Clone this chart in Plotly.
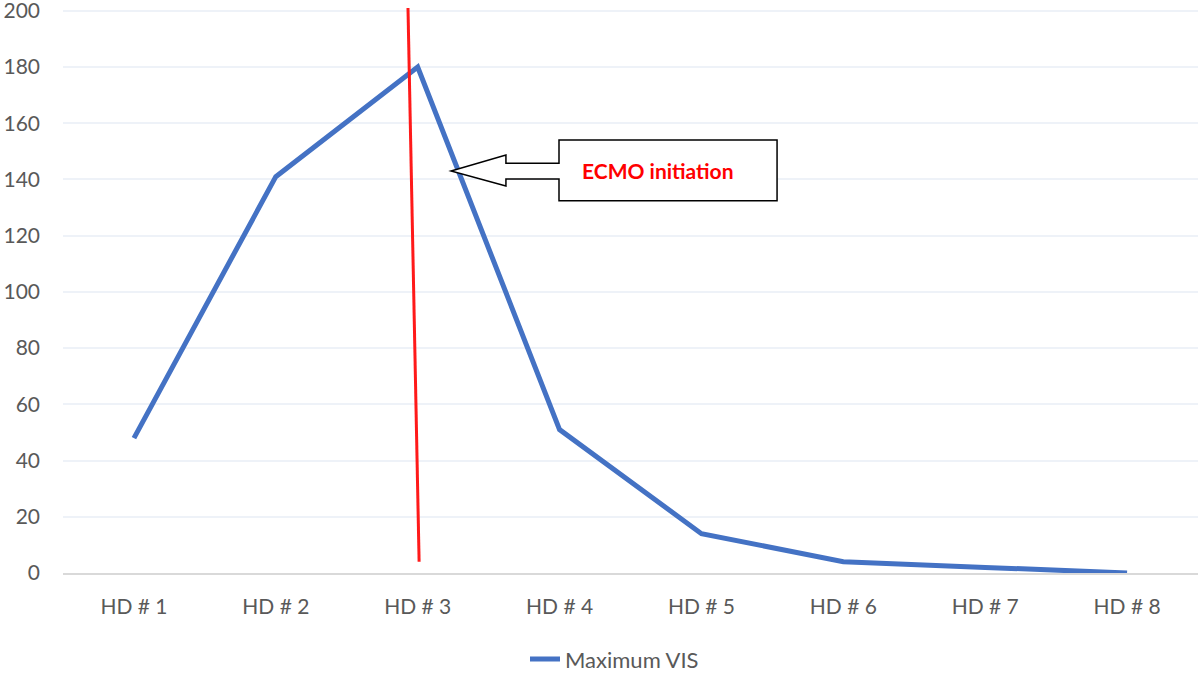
import plotly.graph_objects as go

# Data
days = ["HD # 1", "HD # 2", "HD # 3", "HD # 4", "HD # 5", "HD # 6", "HD # 7", "HD # 8"]
max_vis = [48, 141, 180, 51, 14, 4, 2, 0]
y_ticks = list(range(0, 201, 20))

# ECMO initiation marker line (x in category index units, y in VIS)
ecmo_x = [1.93, 2.01]
ecmo_y = [205, 4]

# callout arrow/box outline (category index units, VIS units)
callout_x = [2.996, 4.533, 4.533, 2.996, 2.996, 2.622, 2.622, 2.235, 2.622, 2.622, 2.996]
callout_y = [154.0, 154.0, 132.4, 132.4, 140.2, 140.2, 137.7, 143.0, 148.7, 145.8, 145.8]
callout_text = "ECMO initiation"

font_family = "Lato, Open Sans, sans-serif"

fig = go.Figure()

fig.add_trace(go.Scatter(
    x=days,
    y=max_vis,
    mode="lines",
    name="Maximum VIS",
    line=dict(color="#4472c4", width=5),
))

# red vertical-ish line
fig.add_shape(
    type="line",
    xref="x", yref="y",
    x0=ecmo_x[0], y0=ecmo_y[0], x1=ecmo_x[1], y1=ecmo_y[1],
    line=dict(color="#ff1a1a", width=3),
)

# callout box with arrow
path = "M " + " L ".join(f"{a},{b}" for a, b in zip(callout_x, callout_y)) + " Z"
fig.add_shape(
    type="path",
    xref="x", yref="y",
    path=path,
    fillcolor="white",
    line=dict(color="black", width=1.5),
)

fig.add_annotation(
    x=(callout_x[0] + callout_x[1]) / 2 - 0.07,
    y=(callout_y[0] + callout_y[2]) / 2,
    xref="x", yref="y",
    text="<b>" + callout_text + "</b>",
    showarrow=False,
    font=dict(color="#ff0000", size=21, family=font_family),
)

fig.update_layout(
    width=1200,
    height=674,
    margin=dict(l=63, r=2, t=8, b=101),
    plot_bgcolor="white",
    paper_bgcolor="white",
    font=dict(family=font_family, size=21, color="#595959"),
    showlegend=True,
    legend=dict(
        orientation="h",
        xref="container", x=0.4375, xanchor="left",
        yref="container", y=0.022, yanchor="middle",
        font=dict(size=22, color="#595959"),
    ),
)

fig.update_xaxes(
    type="category",
    range=[-0.5, 7.5],
    automargin=False,
    showgrid=False,
    showline=True,
    linecolor="#d9d9d9",
    linewidth=1.5,
    ticks="",
    ticklabelstandoff=14,
    tickfont=dict(size=21, color="#595959"),
)

fig.update_yaxes(
    range=[0, 201],
    tickvals=y_ticks,
    automargin=False,
    ticklabeloverflow="allow",
    showgrid=True,
    gridcolor="#eef2f8",
    gridwidth=1.5,
    zeroline=False,
    showline=False,
    ticklabelstandoff=22,
    tickfont=dict(size=21, color="#595959"),
)

# drop the default body margin so the figure sits at the page corner
fig.write_html(
    "out.html",
    config={"displayModeBar": False},
    post_script="document.body.style.margin='0';",
)
